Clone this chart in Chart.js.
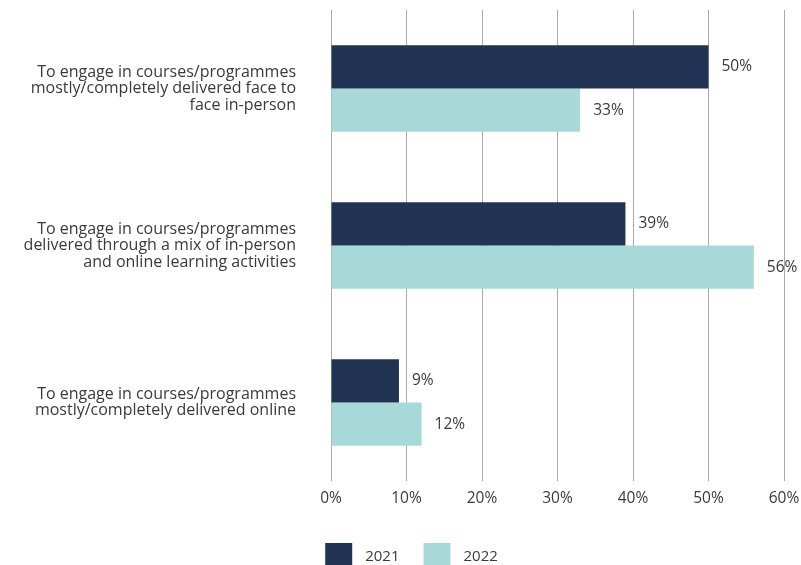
<!DOCTYPE html>
<html lang="en">
<head>
<meta charset="utf-8">
<title>Preferred mode of engagement, 2021 vs 2022</title>
<script src="https://cdn.jsdelivr.net/npm/chart.js@4/dist/chart.umd.min.js"></script>
<style>
    html, body { margin: 0; padding: 0; background: #fff; overflow: hidden; }
    #wrap { width: 801px; height: 565px; position: relative; }
</style>
</head>
<body>
<div id="wrap"><canvas id="grafico"></canvas></div>
<script>
// Categorias (cada uma quebrada em linhas)
const categorias = [
    ['To engage in courses/programmes', 'mostly/completely delivered face to', 'face in-person'],
    ['To engage in courses/programmes', 'delivered through a mix of in-person', 'and online learning activities'],
    ['To engage in courses/programmes', 'mostly/completely delivered online']
];
const valores2021 = [50, 39, 9];
const valores2022 = [33, 56, 12];
const eixoX = { min: 0, max: 60, passo: 10 };

const corTexto = '#3a3a3a';
const familia = '"Open Sans", sans-serif';
const fonte = { family: familia, size: 15.5 };

// Escreve o valor em % à direita de cada barra
const rotulosBarras = {
    id: 'rotulosBarras',
    afterDatasetsDraw(chart) {
        const ctx = chart.ctx;
        ctx.save();
        ctx.font = `${fonte.size}px ${fonte.family}`;
        ctx.fillStyle = corTexto;
        ctx.textAlign = 'left';
        ctx.textBaseline = 'middle';
        chart.data.datasets.forEach((ds, i) => {
            chart.getDatasetMeta(i).data.forEach((bar, j) => {
                ctx.fillText(ds.data[j] + '%', bar.x + 13, bar.y);
            });
        });
        ctx.restore();
    }
};

// Legenda desenhada à mão (quadrado 27px, espaço maior até o texto)
const legendaBaixo = {
    id: 'legendaBaixo',
    afterDraw(chart) {
        const ctx = chart.ctx;
        const caixa = 27, vao = 13, entre = 24;
        ctx.save();
        ctx.font = `15px ${familia}`;
        ctx.textBaseline = 'middle';
        const itens = chart.data.datasets.map(ds => ({
            texto: ds.label,
            cor: ds.backgroundColor,
            largura: caixa + vao + ctx.measureText(ds.label).width
        }));
        const total = itens.reduce((s, it) => s + it.largura, 0) + entre * (itens.length - 1);
        let x = chart.width / 2 + 11 - total / 2;
        const topo = chart.height - 22;
        itens.forEach(it => {
            ctx.fillStyle = it.cor;
            ctx.fillRect(x, topo, caixa, caixa);
            ctx.fillStyle = corTexto;
            ctx.fillText(it.texto, x + caixa + vao, topo + 13.5);
            x += it.largura + entre;
        });
        ctx.restore();
    }
};

new Chart(document.getElementById('grafico'), {
    type: 'bar',
    data: {
        labels: categorias,
        datasets: [
            {
                label: '2021',
                data: valores2021,
                backgroundColor: '#213454',
                categoryPercentage: 0.55,
                barPercentage: 1
            },
            {
                label: '2022',
                data: valores2022,
                backgroundColor: '#a8d9d9',
                categoryPercentage: 0.55,
                barPercentage: 1
            }
        ]
    },
    options: {
        indexAxis: 'y',
        responsive: true,
        maintainAspectRatio: false,
        animation: false,
        layout: { padding: { top: 10, right: 17, left: 0, bottom: 47 } },
        plugins: {
            tooltip: { enabled: false },
            legend: { display: false }
        },
        scales: {
            x: {
                min: eixoX.min,
                max: eixoX.max,
                ticks: {
                    stepSize: eixoX.passo,
                    padding: 8,
                    color: corTexto,
                    font: fonte,
                    callback: v => v + '%'
                },
                grid: { color: '#aaaaaa', drawTicks: false },
                border: { display: false },
                afterFit(scale) {
                    scale.height = 37;
                    scale.paddingLeft = 0;
                    scale.paddingRight = 0;
                }
            },
            y: {
                ticks: {
                    padding: 35,
                    color: corTexto,
                    font: { family: familia, size: 16, lineHeight: 1.03 }
                },
                grid: { display: false, drawTicks: false },
                border: { display: false },
                afterFit(scale) {
                    scale.width = 331;
                    scale.paddingTop = 0;
                    scale.paddingBottom = 0;
                }
            }
        }
    },
    plugins: [rotulosBarras, legendaBaixo]
});
</script>
</body>
</html>
